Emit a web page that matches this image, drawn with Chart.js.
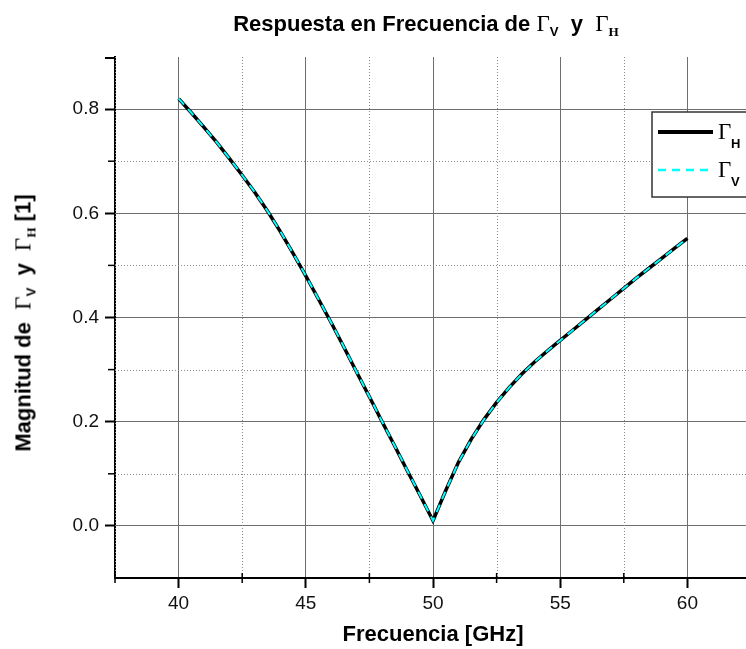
<!DOCTYPE html>
<html lang="es">
<head>
<meta charset="utf-8">
<title>Respuesta en Frecuencia</title>
<script src="https://cdn.jsdelivr.net/npm/chart.js@4.4.1/dist/chart.umd.min.js"></script>
<style>
    html, body { margin: 0; padding: 0; background: #fff; overflow: hidden; }
    #wrap { position: relative; width: 746px; height: 649px; overflow: hidden; }
    #wrap canvas { position: absolute; left: 0; top: 0; }
    .lbl {
        position: absolute;
        font-family: "Liberation Sans", Arial, sans-serif;
        font-weight: bold;
        color: #000;
        white-space: pre;
        line-height: 1;
    }
    .g { font-family: "Liberation Serif", "DejaVu Serif", serif; font-weight: normal; font-size: 1.05em; }
    .lbl sub { font-size: 0.6em; vertical-align: -0.35em; line-height: 0; }
    .lbl sub.s { font-family: "Liberation Serif", serif; }
    #title { left: 426px; top: 12px; font-size: 22px; transform: translateX(-50%); }
    #xTitle { left: 433px; top: 623px; font-size: 22px; transform: translateX(-50%); }
    #yTitle { left: 23px; top: 323px; font-size: 22px; transform: translate(-50%, -50%) rotate(-90deg); }
</style>
</head>
<body>
<div id="wrap">
    <canvas id="respChart" width="800" height="649"></canvas>
    <div class="lbl" id="title">Respuesta en Frecuencia de <span class="g">Γ</span><sub>V</sub>  y  <span class="g">Γ</span><sub class="s">H</sub></div>
    <div class="lbl" id="xTitle">Frecuencia [GHz]</div>
    <div class="lbl" id="yTitle">Magnitud de  <span class="g">Γ</span><sub>V</sub>  y  <span class="g">Γ</span><sub class="s">H</sub> [1]</div>
</div>
<script>
// Frequency points (GHz)
const freqs = [40, 40.5, 41, 41.5, 42, 42.5, 43, 43.5, 44, 44.5, 45, 45.5, 46, 46.5, 47, 47.5, 48, 48.5, 49, 49.5,
    50, 50.5, 51, 51.5, 52, 52.5, 53, 53.5, 54, 54.5, 55, 55.5, 56, 56.5, 57, 57.5, 58, 58.5, 59, 59.5, 60];

// |Gamma_H| (solid black)
const gammaH = [0.820, 0.793, 0.765, 0.736, 0.705, 0.673, 0.640, 0.604, 0.565, 0.523, 0.480, 0.435, 0.390, 0.343, 0.295, 0.248, 0.200, 0.153, 0.105, 0.058,
    0.010, 0.068, 0.122, 0.166, 0.204, 0.237, 0.266, 0.292, 0.315, 0.336, 0.356, 0.376, 0.396, 0.416, 0.436, 0.456, 0.476, 0.495, 0.514, 0.533, 0.552];

// |Gamma_V| (dashed cyan) - lies right on top of Gamma_H
const gammaV = [0.820, 0.793, 0.765, 0.736, 0.705, 0.673, 0.640, 0.604, 0.565, 0.523, 0.480, 0.435, 0.390, 0.343, 0.295, 0.248, 0.200, 0.153, 0.105, 0.058,
    0.010, 0.068, 0.122, 0.166, 0.204, 0.237, 0.266, 0.292, 0.315, 0.336, 0.356, 0.376, 0.396, 0.416, 0.436, 0.456, 0.476, 0.495, 0.514, 0.533, 0.552];

// Axis ticks
const xMajorTicks = [40, 45, 50, 55, 60];
const xMinorTicks = [37.5, 42.5, 47.5, 52.5, 57.5, 62.5];
const yMajorTicks = [0, 0.2, 0.4, 0.6, 0.8];
const yMinorTicks = [0.1, 0.3, 0.5, 0.7];

const toPoints = (ys) => freqs.map((f, i) => ({ x: f, y: ys[i] }));

// Dotted minor grid + small ticks (Origin style)
const minorGrid = {
    id: 'minorGrid',
    beforeDatasetsDraw(chart) {
        const { ctx, chartArea: a, scales: { x, y } } = chart;
        ctx.save();
        ctx.strokeStyle = '#8a8a8a';
        ctx.lineWidth = 1;
        ctx.setLineDash([1, 2]);
        xMinorTicks.forEach(v => {
            const px = Math.round(x.getPixelForValue(v)) + 0.5;
            ctx.beginPath();
            ctx.moveTo(px, a.top);
            ctx.lineTo(px, a.bottom);
            ctx.stroke();
        });
        yMinorTicks.forEach(v => {
            const py = Math.round(y.getPixelForValue(v)) + 0.5;
            ctx.beginPath();
            ctx.moveTo(a.left, py);
            ctx.lineTo(a.right, py);
            ctx.stroke();
        });
        ctx.setLineDash([]);

        // minor tick marks
        ctx.strokeStyle = '#000';
        ctx.lineWidth = 1.5;
        xMinorTicks.forEach(v => {
            const px = x.getPixelForValue(v);
            ctx.beginPath();
            ctx.moveTo(px, a.bottom - 5);
            ctx.lineTo(px, a.bottom + 5);
            ctx.stroke();
        });
        yMinorTicks.forEach(v => {
            const py = y.getPixelForValue(v);
            ctx.beginPath();
            ctx.moveTo(a.left - 7, py);
            ctx.lineTo(a.left, py);
            ctx.stroke();
        });
        // tick at the top end of the y axis
        ctx.lineWidth = 2;
        ctx.beginPath();
        ctx.moveTo(a.left - 10, a.top + 1);
        ctx.lineTo(a.left, a.top + 1);
        ctx.stroke();
        ctx.restore();
    }
};

// Legend box drawn inside the plot, top right
const boxLegend = {
    id: 'boxLegend',
    afterDraw(chart) {
        const { ctx, chartArea: a } = chart;
        const left = a.right - 99;
        const top = a.top + 55;
        ctx.save();
        ctx.fillStyle = '#fff';
        ctx.fillRect(left, top, 120, 85);
        ctx.strokeStyle = '#333';
        ctx.lineWidth = 1.5;
        ctx.strokeRect(left, top, 120, 85);

        const rows = [
            { ds: chart.data.datasets[1], y: top + 20, sub: 'H' },
            { ds: chart.data.datasets[0], y: top + 58, sub: 'V' }
        ];
        rows.forEach(r => {
            ctx.strokeStyle = r.ds.borderColor;
            ctx.lineWidth = r.ds.borderWidth + (r.ds.borderDash ? 0.5 : 0.5);
            ctx.setLineDash(r.ds.borderDash || []);
            ctx.beginPath();
            ctx.moveTo(left + 6, r.y);
            ctx.lineTo(left + 61, r.y);
            ctx.stroke();
            ctx.setLineDash([]);
            ctx.fillStyle = '#000';
            ctx.textBaseline = 'alphabetic';
            ctx.font = '23px "Liberation Serif", serif';
            ctx.fillText('Γ', left + 66, r.y + 7);
            ctx.font = 'bold 13px "Liberation Sans", Arial, sans-serif';
            ctx.fillText(r.sub, left + 79, r.y + 16);
        });
        ctx.restore();
    }
};

document.addEventListener('DOMContentLoaded', () => {
    const ctx = document.getElementById('respChart');

    new Chart(ctx, {
        type: 'line',
        data: {
            datasets: [{
                label: 'ΓV',
                data: toPoints(gammaV),
                borderColor: '#00ffff',
                borderWidth: 2,
                borderDash: [8, 6],
                pointRadius: 0,
                tension: 0,
                order: 0
            }, {
                label: 'ΓH',
                data: toPoints(gammaH),
                borderColor: '#000000',
                borderWidth: 3.5,
                pointRadius: 0,
                tension: 0,
                order: 1
            }]
        },
        options: {
            responsive: false,
            animation: false,
            devicePixelRatio: 1,
            layout: { padding: { top: 57, right: 49, left: 0, bottom: 0 } },
            plugins: {
                legend: { display: false },
                tooltip: { enabled: false }
            },
            scales: {
                x: {
                    type: 'linear',
                    min: 37.5,
                    max: 62.5,
                    afterBuildTicks: s => { s.ticks = xMajorTicks.map(v => ({ value: v })); },
                    afterFit: s => { s.height = 71; },
                    ticks: {
                        autoSkip: false,
                        maxRotation: 0,
                        padding: 4,
                        color: '#111',
                        font: { family: 'Liberation Sans', size: 19 },
                        callback: v => String(v)
                    },
                    grid: { color: '#6e6e6e', lineWidth: 1, tickColor: '#000', tickWidth: 2, tickLength: 10 },
                    border: { color: '#000', width: 2 }
                },
                y: {
                    min: -0.1,
                    max: 0.9,
                    afterBuildTicks: s => { s.ticks = yMajorTicks.map(v => ({ value: v })); },
                    afterFit: s => { s.width = 115; },
                    ticks: {
                        padding: 6,
                        color: '#111',
                        font: { family: 'Liberation Sans', size: 19 },
                        callback: v => v.toFixed(1)
                    },
                    grid: { color: '#6e6e6e', lineWidth: 1, tickColor: '#000', tickWidth: 2, tickLength: 10 },
                    border: { color: '#000', width: 2 }
                }
            }
        },
        plugins: [minorGrid, boxLegend]
    });
});
</script>
</body>
</html>
